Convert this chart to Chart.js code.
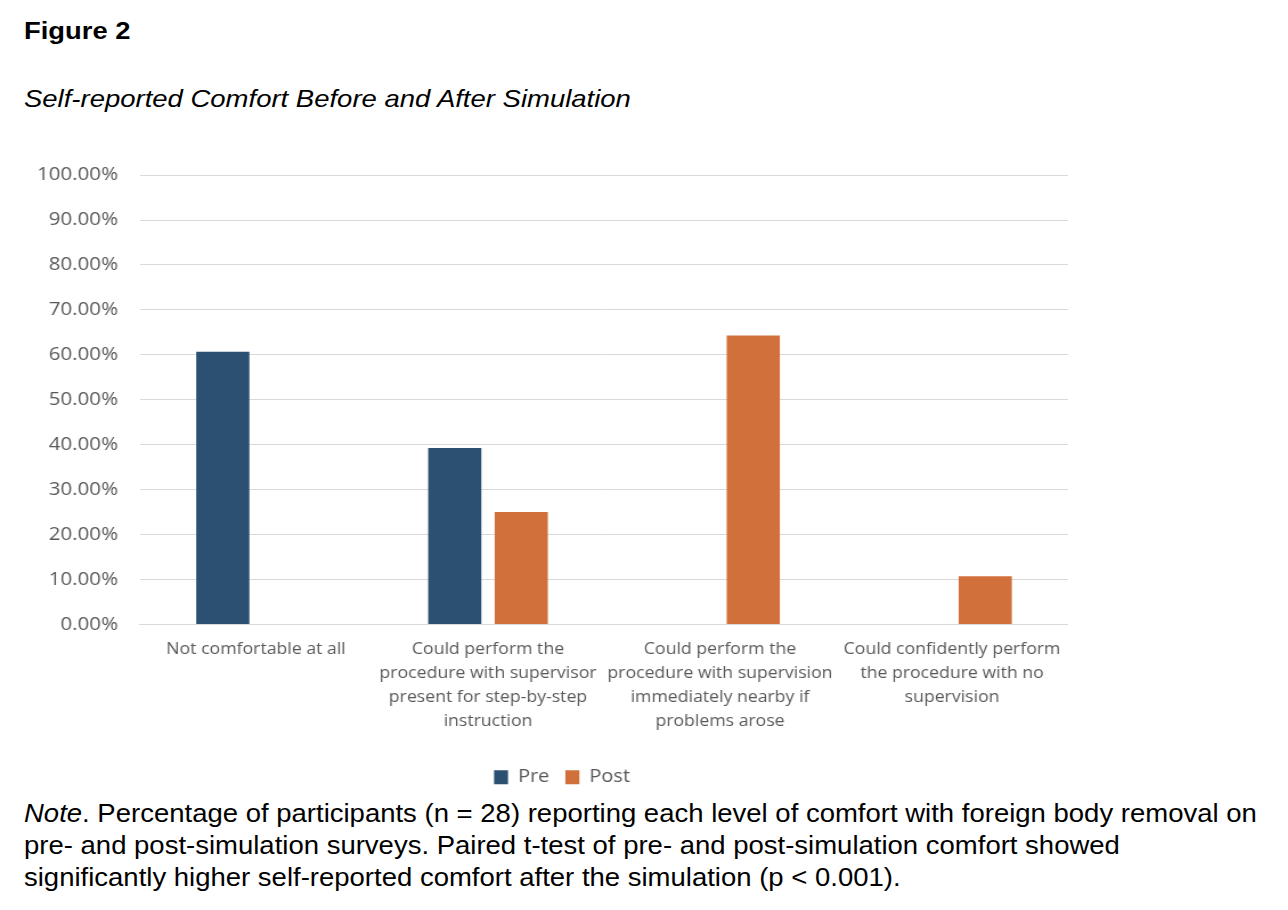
<!DOCTYPE html>
<html>
<head>
<meta charset="utf-8">
<script src="https://cdn.jsdelivr.net/npm/chart.js"></script>
<style>
  body { margin: 0; background: #fff; width: 1288px; height: 910px; position: relative; overflow: hidden; }
  .fig { position: absolute; left: 24px; font-family: "Liberation Sans", Arial, sans-serif; color: #000;
         transform-origin: 0 0; white-space: nowrap; }
  #figNo { top: 17px; font-size: 24px; font-weight: bold; transform: scaleX(1.14); }
  #figTitle { top: 85px; font-size: 24px; font-style: italic; transform: scaleX(1.145); }
  #note { top: 797px; font-size: 25px; line-height: 32px; transform: scaleX(1.10); }
  #chartWrap { position: absolute; left: 0; top: 145px; }
</style>
</head>
<body>
<div class="fig" id="figNo">Figure 2</div>
<div class="fig" id="figTitle">Self-reported Comfort Before and After Simulation</div>
<!-- the reference is stretched sideways, so the canvas is drawn narrow and stretched too -->
<div id="chartWrap"><canvas id="comfortChart" width="986" height="651" style="width:1124px;height:651px"></canvas></div>
<div class="fig" id="note"><i>Note</i>. Percentage of participants (n = 28) reporting each level of comfort with foreign body removal on<br>pre- and post-simulation surveys. Paired t-test of pre- and post-simulation comfort showed<br>significantly higher self-reported comfort after the simulation (p &lt; 0.001).</div>
<script>
const categories = [
  ['Not comfortable at all'],
  ['Could perform the', 'procedure with supervisor', 'present for step-by-step', 'instruction'],
  ['Could perform the', 'procedure with supervision', 'immediately nearby if', 'problems arose'],
  ['Could confidently perform', 'the procedure with no', 'supervision']
];
const preValues = [0.6071, 0.3929, null, null];
const postValues = [null, 0.25, 0.6429, 0.1071];
const yTicks = [0, 0.1, 0.2, 0.3, 0.4, 0.5, 0.6, 0.7, 0.8, 0.9, 1.0];

const S = 1.14; // horizontal stretch
const labelFont = '"Open Sans", Lato, sans-serif';
const gray = '#595959';

new Chart(document.getElementById('comfortChart').getContext('2d'), {
  type: 'bar',
  data: {
    labels: categories,
    datasets: [
      { label: 'Pre', data: preValues, backgroundColor: '#2c5072' },
      { label: 'Post', data: postValues, backgroundColor: '#d2703b' }
    ]
  },
  options: {
    responsive: false,
    animation: false,
    devicePixelRatio: 1,
    layout: { padding: { top: 14, right: 0, left: 0, bottom: 0 } },
    datasets: {
      bar: { categoryPercentage: 0.573, barPercentage: 0.8 }
    },
    scales: {
      x: {
        grid: { display: false, drawTicks: false },
        border: { color: '#d9d9d9', width: 1 },
        ticks: {
          color: gray,
          padding: 13,
          maxRotation: 0,
          autoSkip: false,
          font: { family: labelFont, size: 15.5, lineHeight: 1.55 }
        },
        afterFit: (scale) => { scale.height = 130; }
      },
      y: {
        min: 0,
        max: 1,
        afterBuildTicks: (scale) => { scale.ticks = yTicks.map(v => ({ value: v })); },
        grid: { color: '#d9d9d9', drawTicks: false },
        border: { display: false },
        ticks: {
          color: gray,
          padding: 22 / S,
          font: { family: labelFont, size: 18 },
          callback: (v) => (v * 100).toFixed(2) + '%'
        },
        afterFit: (scale) => { scale.width = 140 / S; }
      },
      // empty spacer on the right, keeps the legend centred like the reference
      spacer: {
        position: 'right',
        grid: { display: false, drawTicks: false },
        border: { display: false },
        ticks: { display: false },
        afterFit: (scale) => { scale.width = 56 / S; }
      }
    },
    plugins: {
      legend: {
        position: 'bottom',
        labels: {
          color: gray,
          boxWidth: 14 / S,
          boxHeight: 14,
          padding: 16 / S,
          font: { family: labelFont, size: 17.5 }
        }
      },
      tooltip: { enabled: false }
    }
  }
});
</script>
</body>
</html>
